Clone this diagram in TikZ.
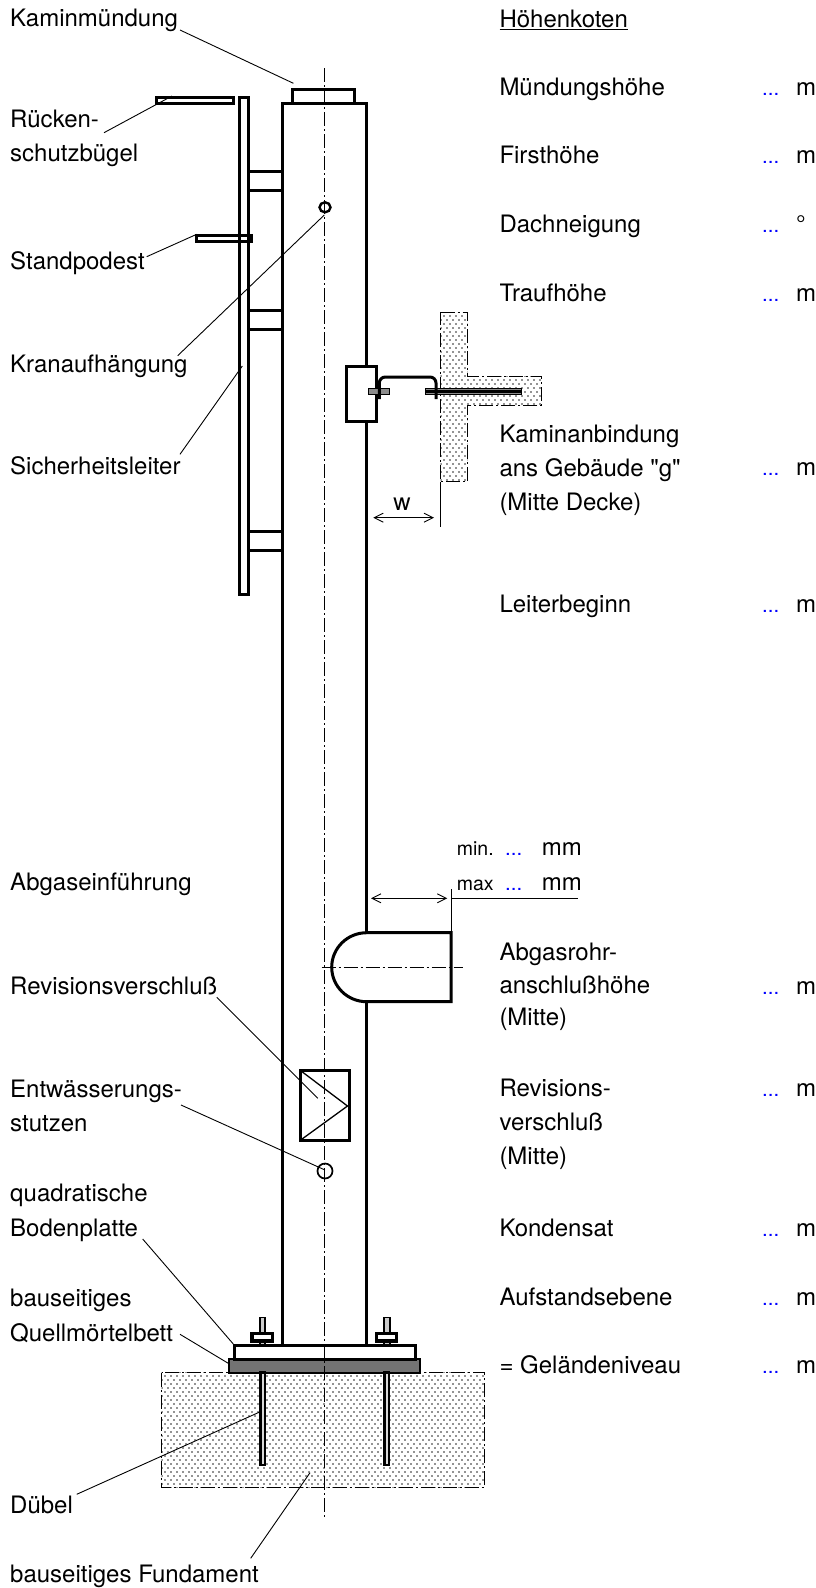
\documentclass[tikz,border=0pt]{standalone}
\usepackage{fontspec}
\setmainfont{TeX Gyre Heros}
\newfontfamily\straightquotes{TeX Gyre Heros}
\usetikzlibrary{patterns, arrows.meta}

\pgfdeclarepatternformonly{concrete}{\pgfqpoint{-1pt}{-1pt}}{\pgfqpoint{7pt}{9pt}}{\pgfqpoint{6pt}{8pt}}{
  \pgfpathcircle{\pgfqpoint{0pt}{0pt}}{0.9pt}
  \pgfpathcircle{\pgfqpoint{3pt}{4pt}}{0.9pt}
  \pgfusepath{fill}
}

\tikzset{
  label/.style={anchor=base west, inner sep=0pt, align=left, font=\fontsize{24}{34.4}\selectfont},
  small/.style={anchor=base west, inner sep=0pt, font=\fontsize{19.5}{22}\selectfont},
  value/.style={anchor=base west, inner sep=0pt, text=blue, font=\fontsize{20.5}{22}\selectfont},
  steel/.style={line width=3pt},
  leader/.style={line width=0.9pt},
  axis/.style={line width=0.8pt, dash pattern=on 14pt off 3pt on 2pt off 3pt},
  ground/.style={line width=0.8pt, dash pattern=on 14pt off 3pt on 2pt off 3pt, pattern=concrete, pattern color=black!85},
  dimline/.style={line width=0.9pt, {Straight Barb[length=9pt,width=9pt]}-{Straight Barb[length=9pt,width=9pt]}}
}

\begin{document}
\begin{tikzpicture}[x=1pt, y=-1pt]
  \useasboundingbox (0,0) rectangle (816,1588);

  % Fundament und Decke
  \draw[ground] (161.7,1372.7) rectangle (484.3,1487.7);
  \draw[ground] (440.7,312.3) -- (467.7,312.3) -- (467.7,376) -- (541.7,376) -- (541.7,405) -- (467.7,405) -- (467.7,481.7) -- (440.7,481.7) -- cycle;

  % Kamin
  \draw[steel] (282.3,103) -- (282.3,1345);
  \draw[steel] (366.7,1001.7) -- (366.7,1345);
  \draw[steel] (366.7,932.7) -- (366.7,103) -- (280.8,103);
  \draw[steel] (292.3,103) -- (292.3,89.3) -- (354,89.3) -- (354,103);

  % Leiter
  \draw[steel] (239.7,97) rectangle (248.3,594);
  \draw[steel] (156.7,97) rectangle (233,103);
  \draw[steel] (196.7,235.7) rectangle (251.7,241.7);
  \foreach \top/\bottom in {171.7/190.7, 310/329, 531.5/550.7} {
    \draw[steel] (248.3,\top) -- (282.3,\top);
    \draw[steel] (248.3,\bottom) -- (282.3,\bottom);
  }
  \draw[line width=2.4pt] (325,207.3) ellipse [x radius=5.5pt, y radius=5pt];

  % Kaminanbindung
  \draw[steel, fill=white] (346,366.7) rectangle (376,421.7);
  \draw[line width=1.2pt, fill=black!45] (368.3,388.3) rectangle (389.3,394.3);
  \draw[line width=1.2pt, fill=black!45] (425.7,388.3) rectangle (521.7,394.3);
  \fill (425.7,389.8) rectangle (521.7,392.8);
  \draw[steel, rounded corners=6pt] (379.3,399) -- (379.3,377) -- (436,377) -- (436,399);

  % Abgasrohr
  \draw[steel] (366.7,932.7) -- (451,932.7) -- (451,1001.7) -- (366.7,1001.7) arc [start angle=270, end angle=90, x radius=35pt, y radius=34.5pt];

  % Revisionsverschluss und Stutzen
  \draw[steel] (300.7,1070.7) rectangle (349.3,1140);
  \draw[line width=1.3pt] (300.7,1070.7) -- (347.5,1106) -- (300.7,1140);
  \draw[line width=1.7pt] (325,1171) circle [radius=7.5pt];

  % Bodenplatte
  \draw[line width=2.2pt, fill=black!55] (229,1359.3) rectangle (420,1372.7);
  \draw[steel, fill=white] (234,1345) rectangle (415.7,1359.3);
  \foreach \left in {259, 383.3} {
    \draw[line width=2.6pt, fill=black!15] (\left+1.2,1372.7) rectangle (\left+5.8,1465);
    \draw[line width=1.8pt, fill=black!20] (\left+0.7,1317.5) rectangle (\left+6.3,1345);
    \draw[line width=3.2pt, fill=white] (\left-7,1333.5) rectangle (\left+13.5,1341);
  }

  % Mittellinien
  \draw[axis] (324.3,68) -- (324.3,1518);
  \draw[axis] (321.7,967) -- (463.3,967);

  % Masse
  \draw[dimline] (373.3,517.7) -- (434,517.7);
  \draw[leader] (440,481.7) -- (440,526.7);
  \draw[dimline] (371,898.3) -- (447.3,898.3);
  \draw[leader] (451,889) -- (451,931.7);
  \draw[leader] (451,898.3) -- (578.3,898.3);
  \node[label, anchor=base] (wlabel) at (402,510) {w};

  % Beschriftung links
  \node[label] (kaminmuendung) at (10,26.7) {Kaminmündung};
  \node[label] (buegel) at (10,161.7) {Rücken-\\schutzbügel};
  \node[label] (podest) at (10,269) {Standpodest};
  \node[label] (kran) at (10,372.7) {Kranaufhängung};
  \node[label] (leiter) at (10,474.3) {Sicherheitsleiter};
  \node[label] (einfuehrung) at (10,890) {Abgaseinführung};
  \node[label] (revision) at (10,994.3) {Revisionsverschluß};
  \node[label] (stutzen) at (10,1131.7) {Entwässerungs-\\stutzen};
  \node[label] (platte) at (10,1236) {quadratische\\Bodenplatte};
  \node[label] (moertel) at (10,1341) {bauseitiges\\Quellmörtelbett};
  \node[label] (duebel) at (10,1513.3) {Dübel};
  \node[label] (fundament) at (10,1582.7) {bauseitiges Fundament};

  % Beschriftung rechts
  \node[label] (koten) at (499.3,27.3) {\underline{Höhenkoten}};
  \node[label] (muendung) at (499.3,95) {Mündungshöhe};
  \node[label] (first) at (499.3,163.3) {Firsthöhe};
  \node[label] (dach) at (499.3,232.7) {Dachneigung};
  \node[label] (trauf) at (499.3,301.7) {Traufhöhe};
  \node[label, font=\fontsize{24}{33.8}\selectfont] (anbindung) at (499.3,510) {Kaminanbindung\\ans Gebäude {\straightquotes"g"}\\(Mitte Decke)};
  \node[label] (beginn) at (499.3,612.7) {Leiterbeginn};
  \node[label, font=\fontsize{24}{32.4}\selectfont] (anschluss) at (499.3,1025.7) {Abgasrohr-\\anschlußhöhe\\(Mitte)};
  \node[label, font=\fontsize{24}{33.7}\selectfont] (revmitte) at (499.3,1164) {Revisions-\\verschluß\\(Mitte)};
  \node[label] (kondensat) at (499.3,1236) {Kondensat};
  \node[label] (aufstand) at (499.3,1305) {Aufstandsebene};
  \node[label] (gelaende) at (499.3,1373.3) {= Geländeniveau};

  % Werte
  \foreach \name/\y/\unit in {muendung/95/m, first/163.3/m, dach/232.7/°, trauf/301.7/m, anbindung/475/m, beginn/612.7/m, anschluss/994/m, revmitte/1096.7/m, kondensat/1236/m, aufstand/1305/m, gelaende/1373.3/m} {
    \node[value] (dots-\name) at (762,\y) {...};
    \node[label] (unit-\name) at (796,\y) {\unit};
  }
  \node[small] (minlabel) at (456.7,855) {min.};
  \node[small] (maxlabel) at (456.7,890) {max};
  \node[value] (mindots) at (505,855) {...};
  \node[value] (maxdots) at (505,890) {...};
  \node[label] (minunit) at (541.7,855) {mm};
  \node[label] (maxunit) at (541.7,890) {mm};

  % Hinweislinien
  \coordinate (kamin-from) at (180,30);
  \coordinate (kamin-to) at (293.4,83.3);
  \coordinate (buegel-from) at (104,132.7);
  \coordinate (buegel-to) at (172,96);
  \coordinate (podest-from) at (146.7,256.7);
  \coordinate (podest-to) at (196.7,234.3);
  \coordinate (kran-from) at (177.7,355.7);
  \coordinate (kran-to) at (324.3,215);
  \coordinate (leiter-from) at (180,454.3);
  \coordinate (leiter-to) at (242.3,366);
  \coordinate (revision-from) at (216.7,997.3);
  \coordinate (revision-to) at (317.7,1098.3);
  \coordinate (stutzen-from) at (181,1105);
  \coordinate (stutzen-to) at (325,1170);
  \coordinate (platte-from) at (142.7,1239);
  \coordinate (platte-to) at (233.3,1344);
  \coordinate (moertel-from) at (180,1334.3);
  \coordinate (moertel-to) at (228.3,1363.3);
  \coordinate (duebel-from) at (76.7,1494.3);
  \coordinate (duebel-to) at (259,1412.3);
  \coordinate (fundament-from) at (250.7,1558.3);
  \coordinate (fundament-to) at (310,1472.7);
  \foreach \name in {kamin, buegel, podest, kran, leiter, revision, stutzen, platte, moertel, duebel, fundament} {
    \draw[leader] (\name-from) -- (\name-to);
  }
\end{tikzpicture}
\end{document}
